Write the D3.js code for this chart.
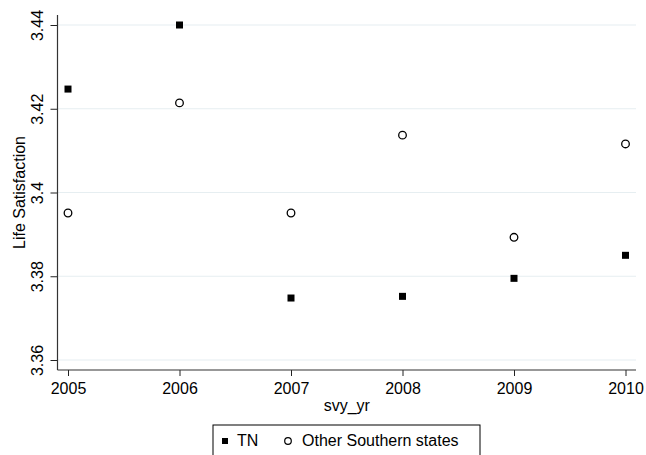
<!DOCTYPE html>
<html>
<head>
<meta charset="utf-8">
<script src="https://cdn.jsdelivr.net/npm/d3@7"></script>
<style>
  body { margin: 0; background: #fff; }
  text { font-family: "Liberation Sans", Arial, sans-serif; fill: #000; }
</style>
</head>
<body>
<svg id="chart" width="646" height="455"></svg>
<script>
// --- DATA ---
const years = [2005, 2006, 2007, 2008, 2009, 2010];
const tnValues = [3.4247, 3.4400, 3.3748, 3.3752, 3.3795, 3.3850];
const otherValues = [3.3951, 3.4214, 3.3951, 3.4137, 3.3893, 3.4116];
const yTicks = [3.36, 3.38, 3.4, 3.42, 3.44];
const seriesNames = ["TN", "Other Southern states"];

const svg = d3.select("#chart");
const fontSize = 16;

// --- SCALES ---
const x = d3.scaleLinear().domain([2005, 2010]).range([68, 625.5]);
const y = d3.scaleLinear().domain([3.36, 3.44]).range([360, 25]);

const axisLeft = 57.5, axisBottom = 370, axisTop = 15, axisRight = 636;

// grid lines
svg.append("g").selectAll("line")
    .data(yTicks).join("line")
    .attr("x1", axisLeft).attr("x2", axisRight)
    .attr("y1", d => y(d)).attr("y2", d => y(d))
    .attr("stroke", "#e6eef1").attr("stroke-width", 1.2);

// y axis
const gy = svg.append("g").attr("transform", `translate(${axisLeft},0)`)
    .call(d3.axisLeft(y).tickValues(yTicks).tickSize(7).tickFormat(d3.format("")));
gy.select(".domain").remove();
gy.selectAll(".tick line").attr("stroke", "#222");
gy.selectAll(".tick text")
    .attr("font-size", fontSize).attr("font-family", "Liberation Sans, Arial, sans-serif")
    .attr("x", null).attr("dy", null)
    .attr("text-anchor", "middle")
    .attr("transform", "translate(-14.5,0) rotate(-90)");
svg.append("line").attr("x1", axisLeft).attr("x2", axisLeft)
    .attr("y1", axisTop).attr("y2", axisBottom).attr("stroke", "#333").attr("stroke-width", 1.2);

// x axis
const gx = svg.append("g").attr("transform", `translate(0,${axisBottom})`)
    .call(d3.axisBottom(x).tickValues(years).tickSize(6).tickFormat(d3.format("d")));
gx.select(".domain").remove();
gx.selectAll(".tick line").attr("stroke", "#222");
gx.selectAll(".tick text")
    .attr("font-size", fontSize).attr("font-family", "Liberation Sans, Arial, sans-serif")
    .attr("y", 24).attr("dy", null);
svg.append("line").attr("x1", axisLeft).attr("x2", axisRight)
    .attr("y1", axisBottom).attr("y2", axisBottom).attr("stroke", "#333").attr("stroke-width", 1.2);

// axis titles
svg.append("text").attr("x", (axisLeft + axisRight) / 2).attr("y", 411)
    .attr("text-anchor", "middle").attr("font-size", fontSize).text("svy_yr");
svg.append("text").attr("transform", `translate(25,${(axisTop + axisBottom) / 2}) rotate(-90)`)
    .attr("text-anchor", "middle").attr("font-size", fontSize).text("Life Satisfaction");

// --- MARKS ---
svg.append("g").selectAll("rect")
    .data(years.map((yr, i) => [yr, tnValues[i]])).join("rect")
    .attr("x", d => x(d[0]) - 3.5).attr("y", d => y(d[1]) - 3.5)
    .attr("width", 7).attr("height", 7).attr("fill", "#000");

svg.append("g").selectAll("circle")
    .data(years.map((yr, i) => [yr, otherValues[i]])).join("circle")
    .attr("cx", d => x(d[0])).attr("cy", d => y(d[1]))
    .attr("r", 3.8).attr("fill", "#fff").attr("stroke", "#000").attr("stroke-width", 1.3);

// --- LEGEND ---
const lg = svg.append("g");
lg.append("rect").attr("x", 213).attr("y", 425).attr("width", 267).attr("height", 40)
    .attr("fill", "#fff").attr("stroke", "#000").attr("stroke-width", 1);
lg.append("rect").attr("x", 222).attr("y", 438).attr("width", 6).attr("height", 6).attr("fill", "#000");
lg.append("text").attr("x", 237).attr("y", 446).attr("font-size", fontSize).text(seriesNames[0]);
lg.append("circle").attr("cx", 288).attr("cy", 441).attr("r", 3.3)
    .attr("fill", "#fff").attr("stroke", "#000").attr("stroke-width", 1.2);
lg.append("text").attr("x", 302).attr("y", 446).attr("font-size", fontSize).text(seriesNames[1]);
</script>
</body>
</html>
